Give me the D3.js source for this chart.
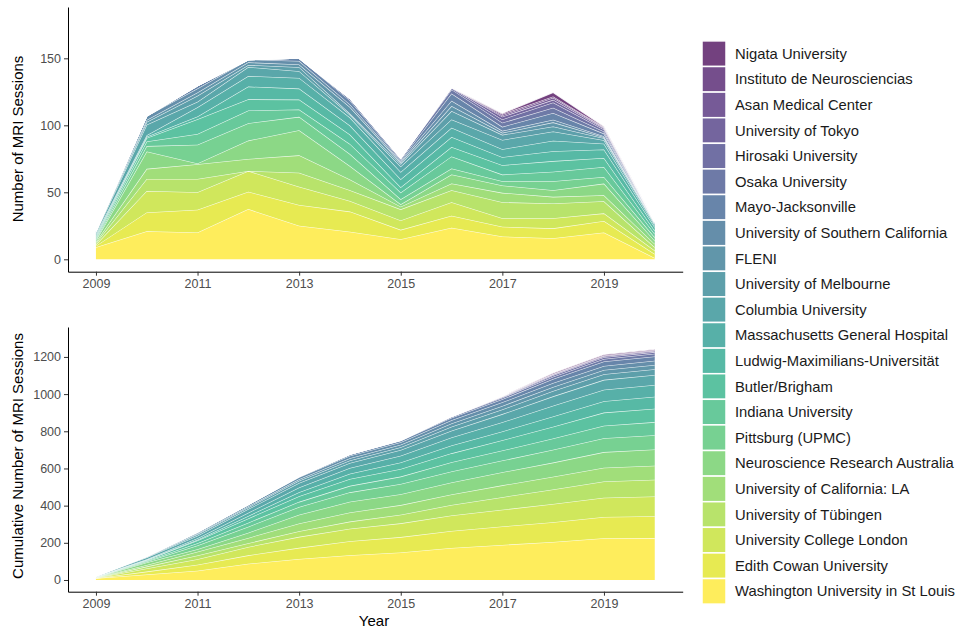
<!DOCTYPE html>
<html>
<head>
<meta charset="utf-8">
<script src="https://d3js.org/d3.v7.min.js"></script>
<style>
  body { margin: 0; background: #fff; }
  svg text { font-family: 'Liberation Sans', Arial, sans-serif; }
  .tick text { fill: #4d4d4d; font-size: 12.5px; }
  .tick line { stroke: #333; }
  .domain { stroke: #000; }
  .legend text { font-size: 14.8px; fill: #1a1a1a; }
  .ytitle, .xtitle { font-size: 15px; fill: #000; }
</style>
</head>
<body>
<svg id="chart" width="957" height="631"></svg>
<script>
// data (sessions per year, 2009-2020)
var years = [2009, 2010, 2011, 2012, 2013, 2014, 2015, 2016, 2017, 2018, 2019, 2020];
var xTicks = [2009, 2011, 2013, 2015, 2017, 2019];
var topTicks = [0, 50, 100, 150];
var cumTicks = [0, 200, 400, 600, 800, 1000, 1200];

// stack order, bottom to top
var sites = ["Washington University in St Louis", "Edith Cowan University", "University College London",
             "University of Tübingen", "University of California: LA", "Neuroscience Research Australia",
             "Pittsburg (UPMC)", "Indiana University", "Butler/Brigham", "Ludwig-Maximilians-Universität",
             "Massachusetts General Hospital", "Columbia University", "University of Melbourne", "FLENI",
             "University of Southern California", "Mayo-Jacksonville", "Osaka University", "Hirosaki University",
             "University of Tokyo", "Asan Medical Center", "Instituto de Neurosciencias", "Nigata University"];

var washU     = [9, 21, 20, 37.5, 25, 20.6, 15, 23.6, 17, 15.7, 20, 1];
var edith     = [1, 14, 17, 13, 15.5, 15, 7, 9, 7.3, 7.4, 8.6, 3];
var ucl       = [1, 16, 13, 15.4, 13.7, 8, 7, 10, 6.3, 7.5, 5.7, 2.5];
var tubingen  = [1, 9, 10, 0, 10.4, 8, 8.3, 9, 12, 11, 9, 2.5];
var ucla      = [1, 7.5, 11, 9, 13, 8, 2, 5, 7, 5, 4.5, 2.5];
var neura     = [1, 13, 0.5, 13.7, 18.7, 10, 1.7, 6.7, 5.5, 4.9, 8.7, 2.4];
var pitt      = [1, 4, 14, 13, 10, 9, 3.8, 4.5, 3.2, 6.8, 5, 2.5];
var indiana   = [1, 3.5, 8, 9.4, 5.5, 7.5, 5, 9, 4.9, 7, 7.4, 2.5];
var butler    = [1, 2.5, 11, 8.4, 7.4, 7, 4, 7, 7, 8, 6.7, 2.5];
var lmu       = [1, 1, 2, 9.5, 8.2, 6.7, 6, 7.4, 6, 7.4, 6.3, 2.5];
var mgh       = [1, 1, 7, 7.9, 8, 6, 5.4, 7, 6, 7.8, 4.4, 1.5];
var columbia  = [1, 8, 4, 6.7, 5, 2, 4, 6.2, 6.9, 6.9, 2.5, 1];
var melbourne = [1, 2, 4.5, 1.5, 3, 1, 2, 6.2, 3.8, 3.8, 1.5, 0.5];
var fleni     = [0, 1.5, 2.5, 2, 2, 4.8, 1, 3.8, 1.5, 3, 0.8, 0.3];
var usc       = [0, 3, 3, 2, 2.6, 2, 1, 4, 1.5, 2, 0.7, 0.3];
var mayo      = [0, 0, 2, 0, 2, 3, 1, 5.4, 3, 5, 2, 0.2];
var osaka     = [0, 0, 0, 0, 0, 1.4, 1.2, 3, 3, 4, 1.5, 0.2];
var hirosaki  = [0, 0, 0, 0, 0, 0, 0, 1, 2.5, 3.8, 1.5, 0.1];
var tokyo     = [0, 0, 0, 0, 0, 0, 0, 0.5, 2, 2, 1, 0.1];
var asan      = [0, 0, 0, 0, 0, 0, 0, 0, 1, 1.5, 0.5, 0];
var instituto = [0, 0, 0, 0, 0, 0, 0, 0, 1, 1, 0.5, 0];
var nigata    = [0, 0, 0, 0, 0, 0, 0, 0, 0.5, 3, 0.3, 0];

var sessions = [washU, edith, ucl, tubingen, ucla, neura, pitt, indiana, butler, lmu, mgh,
                columbia, melbourne, fleni, usc, mayo, osaka, hirosaki, tokyo, asan, instituto, nigata];

function toRows(series) {
    return years.map(function(yr, i) {
        var row = {year: yr};
        sites.forEach(function(s, k) { row[s] = series[k][i]; });
        return row;
    });
}

var perYear = toRows(sessions);
var cumulative = toRows(sessions.map(function(v) { return Array.from(d3.cumsum(v)); }));

var color = function(k) { return d3.interpolateViridis(1 - k / (sites.length - 1)); };
var fillAlpha = 0.75;

var svg = d3.select("#chart");

var x = d3.scaleLinear().domain([2008.45, 2020.55]).range([68, 682.7]);

function drawPanel(rows, y, ticks, title, titleY) {
    var stacked = d3.stack().keys(sites)(rows);

    var area = d3.area()
        .x(function(d) { return x(d.data.year); })
        .y0(function(d) { return y(d[0]); })
        .y1(function(d) { return y(d[1]); });
    var upper = d3.line()
        .x(function(d) { return x(d.data.year); })
        .y(function(d) { return y(d[1]); });

    var g = svg.append("g");
    stacked.forEach(function(s, k) {
        g.append("path").attr("d", area(s))
            .attr("fill", color(k)).attr("fill-opacity", fillAlpha);
        g.append("path").attr("d", upper(s))
            .attr("fill", "none").attr("stroke", "#fff")
            .attr("stroke-width", 1.1).attr("stroke-opacity", 0.85);
    });

    svg.append("g")
        .attr("transform", "translate(0," + y.range()[0] + ")")
        .call(d3.axisBottom(x).tickValues(xTicks).tickFormat(d3.format("d"))
            .tickSize(4).tickSizeOuter(0).tickPadding(3));

    svg.append("g")
        .attr("transform", "translate(" + x.range()[0] + ",0)")
        .call(d3.axisLeft(y).tickValues(ticks).tickFormat(d3.format("d"))
            .tickSize(4).tickSizeOuter(0).tickPadding(3));

    svg.append("text").attr("class", "ytitle")
        .attr("transform", "translate(18," + titleY + ") rotate(-90)")
        .attr("text-anchor", "middle").attr("dy", "0.35em")
        .text(title);
}

var yTop = d3.scaleLinear().domain([-9.25, 188.3]).range([271.7, 7]);
var yCum = d3.scaleLinear().domain([-63, 1361]).range([591.7, 327]);

drawPanel(perYear, yTop, topTicks, "Number of MRI Sessions", 139);
drawPanel(cumulative, yCum, cumTicks, "Cumulative Number of MRI Sessions", 456);

svg.append("text").attr("class", "xtitle")
    .attr("x", 374).attr("y", 621).attr("dy", "0.35em")
    .attr("text-anchor", "middle").text("Year");

// legend, top entry is the top of the stack
var legend = svg.append("g").attr("class", "legend");
var keyStep = 25.6;
var legendItems = sites.map(function(s, k) { return {name: s, k: k}; }).reverse();

legendItems.forEach(function(d, i) {
    var cy = 53.7 + i * keyStep;
    legend.append("rect")
        .attr("x", 702).attr("y", cy - keyStep / 2)
        .attr("width", 24).attr("height", keyStep)
        .attr("fill", color(d.k)).attr("fill-opacity", fillAlpha)
        .attr("stroke", "#fff").attr("stroke-width", 1.5);
    legend.append("text")
        .attr("x", 735).attr("y", cy).attr("dy", "0.35em")
        .text(d.name);
});
</script>
</body>
</html>
